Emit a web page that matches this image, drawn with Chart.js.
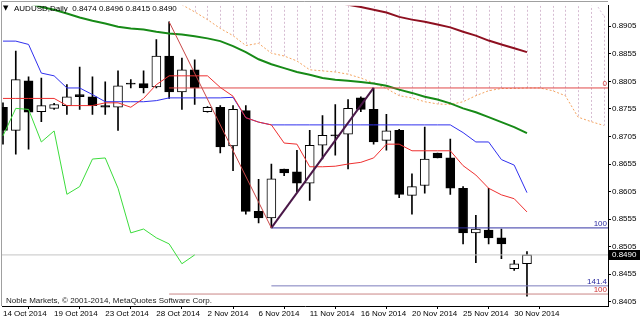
<!DOCTYPE html>
<html>
<head>
<meta charset="utf-8">
<script src="https://cdn.jsdelivr.net/npm/chart.js@4.4.1/dist/chart.umd.min.js"></script>
<style>
  html, body { margin: 0; padding: 0; background: #fff; }
</style>
</head>
<body>
<canvas id="chart" width="640" height="320"></canvas>
<script>
const symbolTitle = 'AUDUSD,Daily';
const copyright = 'Noble Markets, \u00a9 2001-2014, MetaQuotes Software Corp.';

// x axis: one label every 4 bars (bar 0 = 14 Oct 2014)
const tickBars = [0, 4, 8, 12, 16, 20, 24, 28, 32, 36, 40];
const tickLabels = ['14 Oct 2014', '19 Oct 2014', '23 Oct 2014', '28 Oct 2014', '2 Nov 2014', '6 Nov 2014',
  '11 Nov 2014', '16 Nov 2014', '20 Nov 2014', '25 Nov 2014', '30 Nov 2014'];
const priceTicks = [0.8405, 0.8455, 0.8505, 0.8555, 0.8605, 0.8655, 0.8705, 0.8755, 0.8805, 0.8855, 0.8905];

// daily candles
const opens = [0.8758, 0.8716, 0.8806, 0.8750, 0.8756, 0.8761, 0.8781, 0.8777, 0.8761, 0.8758, 0.8801, 0.8801, 0.8795, 0.8851,
  0.8786, 0.8826, 0.8750, 0.8758, 0.8688, 0.8752, 0.8569, 0.8557, 0.8646, 0.8641, 0.8620, 0.8689, 0.8707, 0.8709,
  0.8775, 0.8754, 0.8698, 0.8716, 0.8598, 0.8616, 0.8675, 0.8666, 0.8611, 0.8530, 0.8535, 0.8521, 0.8465, 0.8474];
const highs = [0.8766, 0.8860, 0.8813, 0.8811, 0.8765, 0.8799, 0.8831, 0.8813, 0.8804, 0.8824, 0.8808, 0.8824, 0.8881, 0.8913,
  0.8847, 0.8844, 0.8759, 0.8761, 0.8761, 0.8761, 0.8627, 0.8655, 0.8646, 0.8680, 0.8716, 0.8743, 0.8763, 0.8772,
  0.8777, 0.8793, 0.8745, 0.8718, 0.8637, 0.8722, 0.8675, 0.8700, 0.8614, 0.8562, 0.8611, 0.8537, 0.8480, 0.8496];
const lows = [0.8691, 0.8673, 0.8682, 0.8732, 0.8754, 0.8745, 0.8754, 0.8745, 0.8745, 0.8716, 0.8793, 0.8784, 0.8793, 0.8774,
  0.8754, 0.8763, 0.8749, 0.8675, 0.8643, 0.8564, 0.8548, 0.8539, 0.8634, 0.8605, 0.8589, 0.8664, 0.8671, 0.8646,
  0.8750, 0.8691, 0.8680, 0.8594, 0.8564, 0.8602, 0.8666, 0.8600, 0.8510, 0.8476, 0.8510, 0.8483, 0.8462, 0.8415];
const closes = [0.8716, 0.8808, 0.8749, 0.8761, 0.8763, 0.8777, 0.8777, 0.8761, 0.8758, 0.8797, 0.8800, 0.8793, 0.8851, 0.8786,
  0.8826, 0.8793, 0.8758, 0.8686, 0.8754, 0.8569, 0.8557, 0.8628, 0.8639, 0.8620, 0.8689, 0.8707, 0.8706, 0.8756,
  0.8754, 0.8695, 0.8715, 0.8600, 0.8614, 0.8664, 0.8666, 0.8611, 0.8530, 0.8537, 0.8521, 0.8510, 0.8474, 0.8490];

// Ichimoku
const tenkan = [0.8774, 0.8774, 0.8774, 0.8774, 0.8774, 0.8761, 0.8761, 0.8761, 0.8766, 0.8766, 0.8758, 0.8774, 0.8799, 0.8815,
  0.8815, 0.8815, 0.8815, 0.8794, 0.8778, 0.8739, 0.8731, 0.8726, 0.8693, 0.8691, 0.8650, 0.8650, 0.8651, 0.8655,
  0.8658, 0.8666, 0.8691, 0.8691, 0.8679, 0.8679, 0.8679, 0.8679, 0.8652, 0.8635, 0.8611, 0.8599, 0.8592, 0.8568];
const kijun = [0.8878, 0.8878, 0.8872, 0.8820, 0.8815, 0.8793, 0.8793, 0.8781, 0.8768, 0.8768, 0.8768, 0.8768, 0.8770, 0.8775,
  0.8775, 0.8775, 0.8775, 0.8775, 0.8776, 0.8739, 0.8731, 0.8726, 0.8726, 0.8726, 0.8726, 0.8726, 0.8726, 0.8726,
  0.8726, 0.8726, 0.8726, 0.8726, 0.8726, 0.8726, 0.8726, 0.8726, 0.8712, 0.8695, 0.8695, 0.8663, 0.8653, 0.8603];
const chikouShift = 26;
const senkouA = [null, null, null, null, null, null, null, null, null, null, null, null, null, null,
  0.8944, 0.8931, 0.8917, 0.8901, 0.8888, 0.8870, 0.8874, 0.8856, 0.8851, 0.8842, 0.8826, 0.8824, 0.8822, 0.8818,
  0.8811, 0.8802, 0.8792, 0.8779, 0.8775, 0.8768, 0.8764, 0.8763, 0.8768, 0.8779, 0.8788, 0.8792, 0.8792, 0.8793,
  0.8793, 0.8788, 0.8779, 0.8740, 0.8732, 0.8725];
const senkouB = [null, null, null, null, null, null, null, null, null, null, null, null, null, null,
  null, null, null, null, null, null, null, null, null, null, null, null, null, null,
  null, null, null, null, null, null, null, null, null, null, null, null, null, null,
  null, null, null, 0.8985, 0.8960, 0.8924];

// moving averages
const maGreen = [0.8958, 0.8952, 0.8947, 0.8940, 0.8935, 0.8928, 0.8921, 0.8915, 0.8910, 0.8904, 0.8901, 0.8899, 0.8895, 0.8892,
  0.8890, 0.8887, 0.8883, 0.8878, 0.8869, 0.8858, 0.8845, 0.8836, 0.8829, 0.8822, 0.8817, 0.8811, 0.8808, 0.8806,
  0.8804, 0.8801, 0.8797, 0.8790, 0.8784, 0.8777, 0.8772, 0.8765, 0.8756, 0.8749, 0.8740, 0.8731, 0.8722, 0.8711];
const maMaroon = [null, null, null, null, null, null, null, null, null, null, null, null, null, null,
  null, null, null, null, null, null, null, null, null, null, null, 0.8955, 0.8949, 0.8944,
  0.8940, 0.8935, 0.8930, 0.8922, 0.8917, 0.8913, 0.8908, 0.8903, 0.8895, 0.8888, 0.8879, 0.8872, 0.8865, 0.8858];

// fibonacci objects (anchor bars)
const fiboExpansionBars = [13, 21, 29];   // high, low, high
const fiboExpansionLevels = [0, 100];
const fiboRetraceBars = [21, 29];         // low, high
const fiboRetraceLevels = [100, 141.4];

const last = closes.length - 1;
const xMin = -0.078, xMax = 47.34;

const pts = (arr) => arr.map((v, i) => ({ x: i, y: v }));
const chikou = closes.slice(chikouShift).map((v, i) => ({ x: i, y: v }));

const [eA, eB, eC] = fiboExpansionBars;
const expRange = highs[eA] - lows[eB];
const expansionValues = fiboExpansionLevels.map(l => highs[eC] - l / 100 * expRange);
const [rA, rB] = fiboRetraceBars;
const retRange = highs[rB] - lows[rA];
const retraceValues = fiboRetraceLevels.map(l => highs[rB] - l / 100 * retRange);

const lineDefaults = { type: 'line', pointRadius: 0, borderWidth: 1, tension: 0, fill: false };
const levelLine = (fromBar, value, color, order) => ({
  ...lineDefaults, data: [{ x: fromBar, y: value }, { x: xMax + 1, y: value }], borderColor: color, order
});

const cloudHatch = {
  id: 'cloudHatch',
  beforeDatasetsDraw(chart) {
    const { ctx, chartArea, scales: { x, y } } = chart;
    ctx.save();
    ctx.beginPath();
    ctx.rect(chartArea.left, chartArea.top, chartArea.right - chartArea.left, chartArea.bottom - chartArea.top);
    ctx.clip();
    ctx.strokeStyle = '#d6bcd2';
    ctx.lineWidth = 1;
    ctx.setLineDash([2, 2]);
    senkouA.forEach((a, i) => {
      if (a == null) return;
      const px = Math.round(x.getPixelForValue(i)) + 0.5;
      const top = senkouB[i] != null ? y.getPixelForValue(senkouB[i]) : chartArea.top;
      ctx.beginPath();
      ctx.moveTo(px, top);
      ctx.lineTo(px, y.getPixelForValue(a));
      ctx.stroke();
    });
    ctx.restore();
  }
};

const terminalText = {
  id: 'terminalText',
  afterDraw(chart) {
    const { ctx, chartArea, scales: { y } } = chart;
    const font = "8px 'Liberation Sans', sans-serif";
    ctx.save();
    // window frame
    ctx.strokeStyle = '#a0a0a0';
    ctx.lineWidth = 1;
    ctx.beginPath();
    ctx.moveTo(1.5, chartArea.bottom);
    ctx.lineTo(1.5, 1.5);
    ctx.lineTo(chartArea.right, 1.5);
    ctx.stroke();

    // title
    ctx.fillStyle = '#000';
    ctx.font = "7px 'DejaVu Sans'";
    ctx.textBaseline = 'alphabetic';
    ctx.fillText('\u25bc', 3, 10);
    ctx.font = font;
    const ohlc = [opens[last], highs[last], lows[last], closes[last]].map(v => v.toFixed(4)).join(' ');
    ctx.fillText(symbolTitle + '  ' + ohlc, 14, 11);

    // copyright
    ctx.fillStyle = '#222';
    ctx.fillText(copyright, 6, 303);

    // fibo level labels
    ctx.textAlign = 'right';
    fiboExpansionLevels.forEach((l, i) => {
      ctx.fillStyle = '#d03030';
      ctx.fillText(String(l), chartArea.right - 1, y.getPixelForValue(expansionValues[i]) - 2);
    });
    fiboRetraceLevels.forEach((l, i) => {
      ctx.fillStyle = '#2a2aa0';
      ctx.fillText(String(l), chartArea.right - 1, y.getPixelForValue(retraceValues[i]) - 2);
    });

    // bid label
    const py = Math.round(y.getPixelForValue(closes[last]));
    ctx.fillStyle = '#000';
    ctx.fillRect(chartArea.right + 1, py - 5, 31, 10);
    ctx.fillStyle = '#fff';
    ctx.textAlign = 'left';
    ctx.textBaseline = 'middle';
    ctx.fillText(closes[last].toFixed(4), chartArea.right + 4, py);
    ctx.restore();
  }
};

Chart.defaults.font.family = "'Liberation Sans', sans-serif";
Chart.defaults.font.size = 8;
Chart.defaults.color = '#000';

new Chart(document.getElementById('chart').getContext('2d'), {
  type: 'line',
  data: {
    datasets: [
      // fibo trend lines and levels
      { ...lineDefaults, data: [{ x: eA, y: highs[eA] }, { x: eB, y: lows[eB] }], borderColor: '#c84646', order: 1 },
      { ...lineDefaults, data: [{ x: rA, y: lows[rA] }, { x: rB, y: highs[rB] }], borderColor: '#4a1848', borderWidth: 2, order: 1 },
      levelLine(eA, expansionValues[0], '#e04848', 2),
      levelLine(eA, expansionValues[1], '#c98686', 2),
      levelLine(rA, retraceValues[0], '#3434a4', 2),
      levelLine(rA, retraceValues[1], '#7c7cbc', 2),
      // indicators
      { ...lineDefaults, data: pts(tenkan), borderColor: '#ee3030', order: 4 },
      { ...lineDefaults, data: pts(kijun), borderColor: '#3030ee', order: 4 },
      { ...lineDefaults, data: chikou, borderColor: '#3cdc3c', order: 4 },
      { ...lineDefaults, data: pts(maGreen), borderColor: '#178a17', borderWidth: 2, order: 4 },
      { ...lineDefaults, data: pts(maMaroon), borderColor: '#8e1020', borderWidth: 2, order: 4 },
      { ...lineDefaults, data: pts(senkouA), borderColor: '#f4a460', borderDash: [2, 2], order: 4 },
      { ...lineDefaults, data: pts(senkouB), borderColor: '#d8bfd8', borderDash: [2, 2], order: 4 },
      // bid line
      { ...lineDefaults, data: [{ x: xMin - 1, y: closes[last] }, { x: xMax + 1, y: closes[last] }], borderColor: '#c4c4c4', order: 6 },
      // candles
      {
        type: 'bar', grouped: false, order: 8, barThickness: 9, minBarLength: 1,
        data: opens.map((o, i) => ({ x: i, y: [o, closes[i]] })),
        backgroundColor: opens.map((o, i) => closes[i] >= o ? '#ffffff' : '#000000'),
        borderColor: '#000', borderWidth: 1, borderSkipped: false
      },
      {
        type: 'bar', grouped: false, order: 9, barThickness: 1,
        data: lows.map((l, i) => ({ x: i, y: [l, highs[i]] })),
        backgroundColor: '#000'
      }
    ]
  },
  options: {
    responsive: false,
    animation: false,
    layout: { padding: { left: 2, top: 2, right: 0, bottom: 0 } },
    plugins: { legend: { display: false }, tooltip: { enabled: false } },
    scales: {
      x: {
        type: 'linear', min: xMin, max: xMax, offset: false,
        grid: { drawOnChartArea: false, tickLength: 3, color: '#000' },
        border: { color: '#000' },
        ticks: {
          align: 'start', autoSkip: false, maxRotation: 0, padding: 0,
          callback: (v) => tickLabels[tickBars.indexOf(v)]
        },
        afterBuildTicks: (s) => { s.ticks = tickBars.map(v => ({ value: v })); },
        afterFit: (s) => { s.height = 14; }
      },
      y: {
        type: 'linear', position: 'right', min: 0.83973, max: 0.89421,
        grid: { drawOnChartArea: false, tickLength: 3, color: '#000' },
        border: { color: '#000' },
        ticks: { padding: 1, callback: (v) => v.toFixed(4) },
        afterBuildTicks: (s) => { s.ticks = priceTicks.map(v => ({ value: v })); },
        afterFit: (s) => { s.width = 32; }
      }
    }
  },
  plugins: [cloudHatch, terminalText]
});
</script>
</body>
</html>
